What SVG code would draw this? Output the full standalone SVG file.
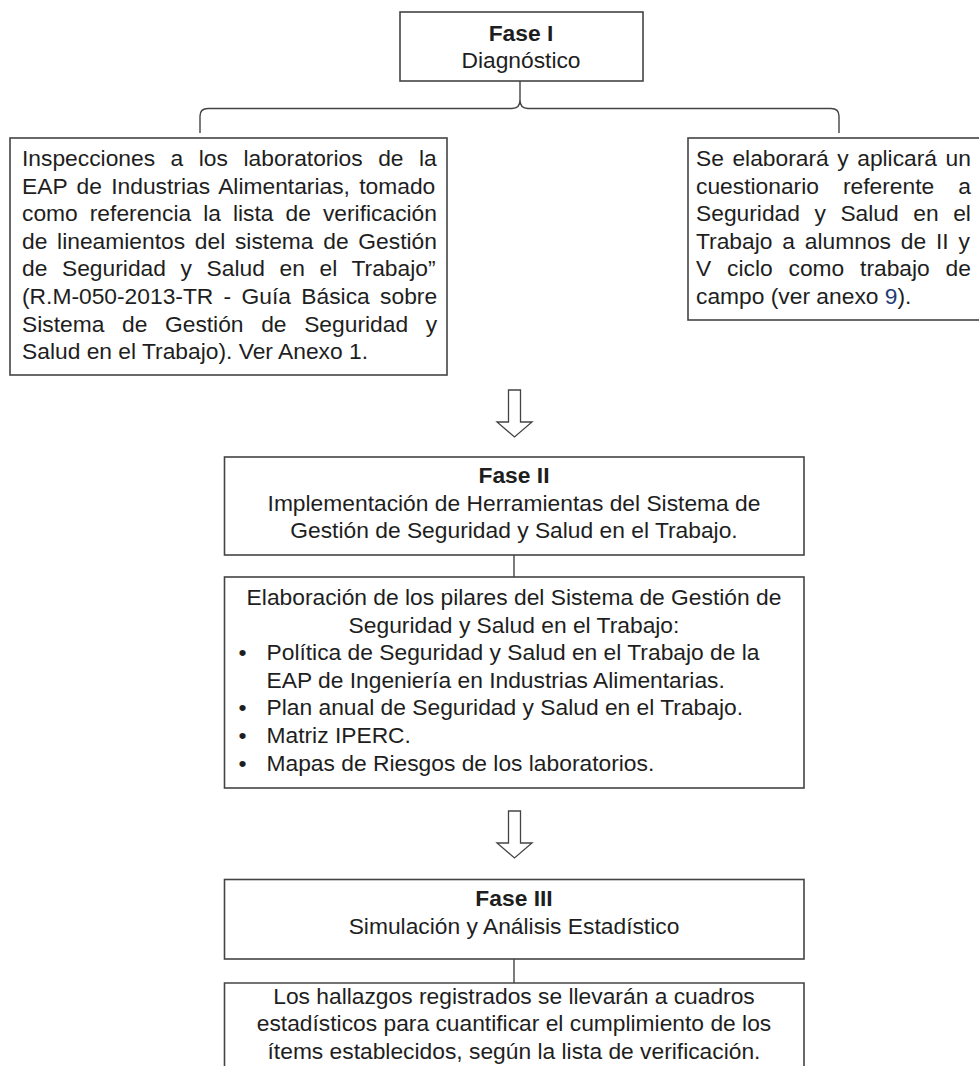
<svg xmlns="http://www.w3.org/2000/svg" width="979" height="1066" viewBox="0 0 979 1066">
<style>
  .bx{fill:#fff;stroke:#444;stroke-width:1.6}
  .ln{fill:none;stroke:#444;stroke-width:1.4}
  .ar{fill:#fff;stroke:#444;stroke-width:1.3;stroke-linejoin:miter}
  text{font-family:"Liberation Sans",Arial,sans-serif;font-size:22.8px;fill:#1e1e1e}
  .c{text-anchor:middle}
  .b{font-weight:bold}
</style>
<rect width="979" height="1066" fill="#fff"/>
<g id="connectors">
  <path class="ln" d="M200,133 L200,116 Q200,108.5 208,108.5 L512,108.5 Q520,108.5 520,100 L520,81 M520,100 Q520,108.5 528,108.5 L831,108.5 Q839,108.5 839,116 L839,133"/>
  <polygon class="ar" points="508.5,390 520.5,390 520.5,422 532,422 514.5,437 497,422 508.5,422"/>
  <line class="ln" x1="514" y1="555" x2="514" y2="577"/>
  <polygon class="ar" points="508.5,811 520.5,811 520.5,843 532,843 514.5,858 497,843 508.5,843"/>
  <line class="ln" x1="514" y1="959" x2="514" y2="983"/>
</g>
<g id="fase1">
  <rect class="bx" x="400" y="12" width="243" height="69"/>
  <text class="c b" x="521" y="40.5">Fase I</text>
  <text class="c" x="521" y="67.5">Diagnóstico</text>
</g>
<g id="inspecciones">
  <rect class="bx" x="10" y="138" width="437" height="237"/>
  <text x="22" y="166" style="word-spacing:9.2px">Inspecciones a los laboratorios de la</text>
  <text x="22" y="193.6" style="word-spacing:3px">EAP de Industrias Alimentarias, tomado</text>
  <text x="22" y="221.2" style="word-spacing:5.7px">como referencia la lista de verificación</text>
  <text x="22" y="248.8" style="word-spacing:3.4px">de lineamientos del sistema de Gestión</text>
  <text x="22" y="276.4" style="word-spacing:8.3px">de Seguridad y Salud en el Trabajo”</text>
  <text x="22" y="304" style="word-spacing:4px">(R.M-050-2013-TR - Guía Básica sobre</text>
  <text x="22" y="331.6" style="word-spacing:11.3px">Sistema de Gestión de Seguridad y</text>
  <text x="22" y="359.2">Salud en el Trabajo). Ver Anexo 1.</text>
</g>
<g id="cuestionario">
  <rect class="bx" x="688" y="138" width="293" height="182"/>
  <text x="696" y="166" style="word-spacing:2.2px">Se elaborará y aplicará un</text>
  <text x="696" y="193.6" style="word-spacing:17.7px">cuestionario referente a</text>
  <text x="696" y="221.2" style="word-spacing:8.2px">Seguridad y Salud en el</text>
  <text x="696" y="248.8" style="word-spacing:3.5px">Trabajo a alumnos de II y</text>
  <text x="696" y="276.4" style="word-spacing:9.5px">V ciclo como trabajo de</text>
  <text x="696" y="304">campo (ver anexo <tspan fill="#1f3b77">9</tspan>).</text>
</g>
<g id="fase2">
  <rect class="bx" x="224.5" y="457" width="579.5" height="98"/>
  <text class="c b" x="514" y="483">Fase II</text>
  <text class="c" x="514" y="510.5">Implementación de Herramientas del Sistema de</text>
  <text class="c" x="514" y="538">Gestión de Seguridad y Salud en el Trabajo.</text>
</g>
<g id="pilares">
  <rect class="bx" x="224.5" y="577" width="579.5" height="211"/>
  <text class="c" x="514" y="605">Elaboración de los pilares del Sistema de Gestión de</text>
  <text class="c" x="514" y="632.6">Seguridad y Salud en el Trabajo:</text>
  <text x="238.5" y="660.2">•</text>
  <text x="266.5" y="660.2">Política de Seguridad y Salud en el Trabajo de la</text>
  <text x="266.5" y="687.8">EAP de Ingeniería en Industrias Alimentarias.</text>
  <text x="238.5" y="715.4">•</text>
  <text x="266.5" y="715.4">Plan anual de Seguridad y Salud en el Trabajo.</text>
  <text x="238.5" y="743">•</text>
  <text x="266.5" y="743">Matriz IPERC.</text>
  <text x="238.5" y="770.6">•</text>
  <text x="266.5" y="770.6">Mapas de Riesgos de los laboratorios.</text>
</g>
<g id="fase3">
  <rect class="bx" x="224.5" y="879.5" width="579.5" height="79.5"/>
  <text class="c b" x="514" y="906">Fase III</text>
  <text class="c" x="514" y="933.5">Simulación y Análisis Estadístico</text>
</g>
<g id="hallazgos">
  <path class="bx" d="M224.5,1070 V983 H804 V1070"/>
  <text class="c" x="514" y="1003.5">Los hallazgos registrados se llevarán a cuadros</text>
  <text class="c" x="514" y="1031">estadísticos para cuantificar el cumplimiento de los</text>
  <text class="c" x="514" y="1058.5">ítems establecidos, según la lista de verificación.</text>
</g>
</svg>
